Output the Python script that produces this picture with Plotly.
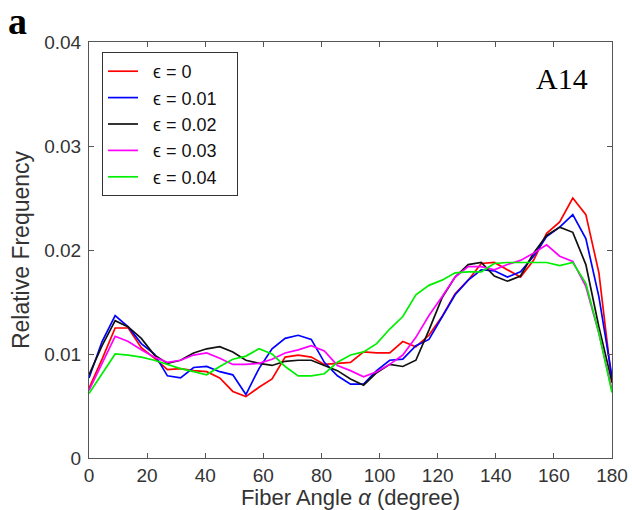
import plotly.graph_objects as go

# Fiber angle bin centres (degree)
angles = [0, 4.5, 9, 13.5, 18, 22.5, 27, 31.5, 36, 40.5, 45, 49.5, 54, 58.5, 63, 67.5,
          72, 76.5, 81, 85.5, 90, 94.5, 99, 103.5, 108, 112.5, 117, 121.5, 126, 130.5,
          135, 139.5, 144, 148.5, 153, 157.5, 162, 166.5, 171, 175.5, 180]

eps_0 = [0.0067, 0.0095, 0.0125, 0.0125, 0.0106, 0.0096, 0.0085, 0.0086, 0.0084, 0.0083,
         0.0077, 0.0064, 0.0059, 0.0068, 0.0076, 0.0097, 0.0099, 0.0097, 0.0090, 0.0091,
         0.0092, 0.0102, 0.0101, 0.0101, 0.0112, 0.0107, 0.0118, 0.0136, 0.0158, 0.0171,
         0.0187, 0.0188, 0.0181, 0.0174, 0.0190, 0.0216, 0.0227, 0.0250, 0.0234, 0.0178,
         0.0072]
eps_001 = [0.0077, 0.0112, 0.0137, 0.0126, 0.0110, 0.0100, 0.0079, 0.0077, 0.0087, 0.0088,
           0.0083, 0.0080, 0.0061, 0.0086, 0.0105, 0.0115, 0.0118, 0.0114, 0.0092, 0.0079,
           0.0071, 0.0071, 0.0084, 0.0094, 0.0095, 0.0108, 0.0114, 0.0136, 0.0157, 0.0171,
           0.0181, 0.0180, 0.0174, 0.0179, 0.0194, 0.0213, 0.0222, 0.0234, 0.0211, 0.0155,
           0.0078]
eps_002 = [0.0080, 0.0108, 0.0132, 0.0126, 0.0115, 0.0099, 0.0091, 0.0094, 0.0101, 0.0105,
           0.0107, 0.0102, 0.0094, 0.0091, 0.0089, 0.0093, 0.0094, 0.0094, 0.0089, 0.0084,
           0.0076, 0.0070, 0.0082, 0.0090, 0.0088, 0.0094, 0.0123, 0.0154, 0.0174, 0.0186,
           0.0188, 0.0175, 0.0170, 0.0175, 0.0197, 0.0214, 0.0222, 0.0217, 0.0186, 0.0126,
           0.0073]
eps_003 = [0.0065, 0.0091, 0.0117, 0.0112, 0.0104, 0.0097, 0.0092, 0.0094, 0.0099, 0.0101,
           0.0096, 0.0090, 0.0090, 0.0091, 0.0095, 0.0101, 0.0104, 0.0108, 0.0103, 0.0089,
           0.0084, 0.0078, 0.0083, 0.0090, 0.0099, 0.0116, 0.0137, 0.0155, 0.0174, 0.0184,
           0.0184, 0.0181, 0.0186, 0.0190, 0.0197, 0.0205, 0.0194, 0.0189, 0.0165, 0.0120,
           0.0065]
eps_004 = [0.0062, 0.0081, 0.0100, 0.0099, 0.0097, 0.0094, 0.0090, 0.0086, 0.0083, 0.0080,
           0.0088, 0.0095, 0.0098, 0.0105, 0.0100, 0.0088, 0.0079, 0.0079, 0.0081, 0.0092,
           0.0099, 0.0102, 0.0110, 0.0124, 0.0136, 0.0157, 0.0166, 0.0171, 0.0178, 0.0179,
           0.0179, 0.0187, 0.0188, 0.0188, 0.0188, 0.0188, 0.0185, 0.0188, 0.0168, 0.0120,
           0.0063]

series_names = ["ϵ = 0", "ϵ = 0.01", "ϵ = 0.02", "ϵ = 0.03", "ϵ = 0.04"]
series_values = [eps_0, eps_001, eps_002, eps_003, eps_004]
series_colors = ["#ff0000", "#0000ff", "#111111", "#ff00ff", "#00ee00"]

x_ticks = [0, 20, 40, 60, 80, 100, 120, 140, 160, 180]
y_ticks = [0, 0.01, 0.02, 0.03, 0.04]
y_tick_labels = ["0", "0.01", "0.02", "0.03", "0.04"]

NB = "\u00a0"
fig = go.Figure()
for name, vals, col in zip(series_names, series_values, series_colors):
    fig.add_trace(go.Scatter(x=angles, y=vals, mode="lines",
                             name=NB * 2 + name + NB * 3,
                             line=dict(color=col, width=1.7)))

FONT = "Liberation Sans, Arial, Helvetica"
axis_common = dict(showline=True, linecolor="#555555", linewidth=1, mirror="ticks",
                   ticks="inside", ticklen=5, tickcolor="#555555", showgrid=False,
                   zeroline=False, automargin=False,
                   tickfont=dict(family=FONT, size=19, color="#333333"))

fig.update_layout(
    width=632, height=510,
    margin=dict(l=89, r=20, t=42, b=52),
    paper_bgcolor="white", plot_bgcolor="white",
    xaxis=dict(range=[0, 180], tickvals=x_ticks, **axis_common,
               title=dict(text="Fiber Angle <i>α</i> (degree)", standoff=0,
                          font=dict(family=FONT, size=22, color="#333333"))),
    yaxis=dict(range=[0, 0.04], tickvals=y_ticks, ticktext=y_tick_labels, **axis_common,
               ticklabelstandoff=3,
               title=dict(text="Relative Frequency", standoff=8,
                          font=dict(family=FONT, size=23, color="#333333"))),
    legend=dict(x=(102 - 89) / 523, y=(458 - 52) / 416, xanchor="left", yanchor="top",
                bgcolor="white", bordercolor="#333333", borderwidth=1,
                font=dict(family=FONT, size=18, color="#111111")),
    showlegend=True,
    annotations=[
        dict(text="<b>a</b>", xref="paper", yref="paper",
             x=(17 - 89) / 523, y=(458 - 21) / 416, xanchor="center", yanchor="middle",
             showarrow=False, font=dict(family="Liberation Serif, Times New Roman", size=38, color="black")),
        dict(text="A14", xref="paper", yref="paper",
             x=(562 - 89) / 523, y=(458 - 78) / 416, xanchor="center", yanchor="middle",
             showarrow=False, font=dict(family="Liberation Serif, Times New Roman", size=30, color="black")),
    ],
)

fig.write_html("out.html")
